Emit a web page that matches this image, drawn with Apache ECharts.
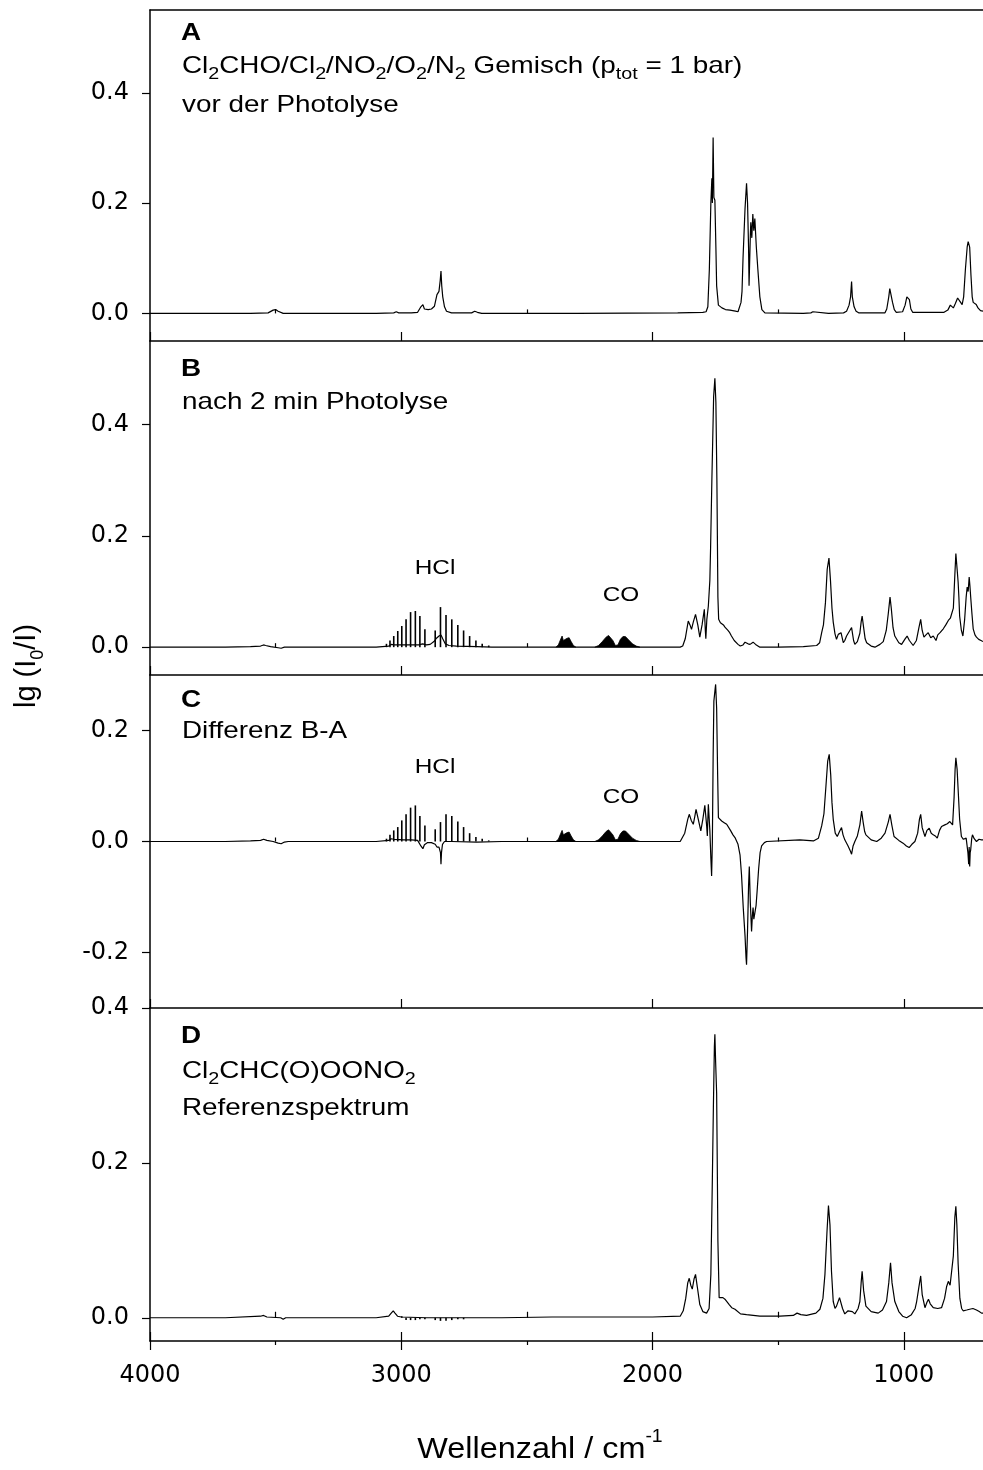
<!DOCTYPE html>
<html>
<head>
<meta charset="utf-8">
<script src="https://cdn.jsdelivr.net/npm/echarts@6/dist/echarts.min.js"></script>
<style>
  html, body { margin: 0; padding: 0; background: #fff; }
  #chart { width: 983px; height: 1470px; }
</style>
</head>
<body>
<div id="chart"></div>
<script>
// ---- axis ticks ----
const xMajorTicks = [4000, 3000, 2000, 1000];
const xMinorTicks = [3500, 2500, 1500];
const yTicksAB = [0, 0.2, 0.4];
const yTicksC = [-0.2, 0, 0.2];
const yTicksD = [0, 0.2, 0.4];

// ---- spectrum A: mixture before photolysis [wavenumber, lg(I0/I)] ----
const specA = [
  [4000,0.0],[3800,0.0],[3600,0.0],[3530,0.001],[3510,0.006],[3500,0.007],[3490,0.004],[3470,0.0],
  [3100,0.0],[3030,0.001],[3020,0.003],[3010,0.001],[2960,0.001],[2935,0.002],[2922,0.012],[2914,0.016],
  [2908,0.008],[2902,0.005],[2893,0.007],[2880,0.008],[2868,0.013],[2858,0.034],[2850,0.04],[2845,0.06],
  [2842,0.077],[2839,0.05],[2835,0.03],[2828,0.012],[2820,0.004],[2800,0.001],[2720,0.001],[2708,0.004],
  [2703,0.005],[2697,0.002],[2680,0.0],[2300,0.0],[1900,0.001],[1800,0.002],[1787,0.003],[1780,0.012],
  [1774,0.08],[1768,0.2],[1764,0.245],[1762,0.2],[1759,0.319],[1756,0.21],[1752,0.205],[1748,0.12],
  [1745,0.05],[1738,0.015],[1724,0.01],[1710,0.007],[1692,0.006],[1670,0.004],[1660,0.003],[1656,0.002],
  [1648,0.02],[1644,0.04],[1640,0.1],[1632,0.19],[1626,0.236],[1622,0.2],[1618,0.12],[1616,0.05],
  [1611,0.14],[1609,0.165],[1605,0.137],[1601,0.18],[1597,0.15],[1593,0.172],[1587,0.12],[1581,0.08],
  [1573,0.03],[1565,0.007],[1553,0.001],[1400,0.0],[1370,0.001],[1362,0.003],[1355,0.001],[1300,0.0],
  [1240,0.001],[1228,0.004],[1218,0.015],[1212,0.03],[1208,0.058],[1205,0.03],[1198,0.012],[1190,0.004],
  [1180,0.001],[1075,0.001],[1068,0.008],[1060,0.03],[1056,0.045],[1053,0.038],[1050,0.04],[1045,0.02],
  [1038,0.007],[1030,0.002],[1005,0.003],[995,0.015],[988,0.03],[984,0.032],[978,0.025],[972,0.008],
  [965,0.002],[840,0.002],[825,0.006],[815,0.015],[809,0.018],[803,0.01],[795,0.018],[786,0.028],
  [781,0.03],[774,0.02],[768,0.016],[762,0.03],[755,0.08],[748,0.12],[744,0.13],[741,0.133],
  [738,0.12],[733,0.07],[728,0.03],[724,0.02],[718,0.018],[712,0.016],[705,0.01],[695,0.005],[685,0.004]
];

// ---- spectrum B: after 2 min photolysis (continuum part) ----
const specB = [
  [4000,0],[3700,0.0],[3600,0.001],[3560,0.002],[3548,0.004],[3540,0.003],[3520,0.001],[3490,-0.001],
  [3478,-0.002],[3465,0],[3100,0],[3050,0.002],[3040,0.005],[3030,0.004],[3010,0.004],[2990,0.004],
  [2960,0.004],[2930,0.004],[2915,0.006],[2900,0.004],[2885,0.005],[2870,0.01],[2860,0.016],[2850,0.02],
  [2842,0.022],[2835,0.015],[2825,0.006],[2810,0.003],[2780,0.002],[2700,0.001],[2640,0],[2400,0],
  [1890,0.0],[1880,0.002],[1870,0.015],[1858,0.047],[1851,0.04],[1845,0.032],[1838,0.045],[1829,0.059],
  [1820,0.04],[1812,0.018],[1803,0.04],[1794,0.068],[1790,0.03],[1788,0.015],[1784,0.05],[1778,0.074],
  [1772,0.12],[1769,0.18],[1764,0.3],[1757,0.45],[1752,0.483],[1748,0.44],[1744,0.3],[1740,0.09],
  [1737,0.05],[1730,0.044],[1726,0.041],[1718,0.04],[1712,0.036],[1706,0.038],[1700,0.03],[1693,0.026],
  [1686,0.02],[1675,0.012],[1660,0.005],[1651,0.002],[1640,0.004],[1632,0.009],[1628,0.011],[1620,0.006],
  [1612,0.005],[1605,0.008],[1600,0.009],[1590,0.005],[1573,0.0],[1500,0.0],[1400,0.001],[1347,0.003],
  [1335,0.008],[1327,0.026],[1320,0.04],[1312,0.08],[1305,0.14],[1298,0.16],[1292,0.12],[1286,0.07],
  [1281,0.045],[1274,0.024],[1268,0.014],[1261,0.023],[1250,0.026],[1241,0.008],[1235,0.012],[1228,0.02],
  [1215,0.03],[1208,0.035],[1200,0.012],[1195,0.005],[1185,0.01],[1175,0.025],[1170,0.045],[1166,0.056],
  [1160,0.035],[1154,0.015],[1148,0.008],[1130,0.002],[1115,0.0],[1095,0.005],[1082,0.01],[1070,0.03],
  [1062,0.06],[1055,0.09],[1050,0.07],[1043,0.035],[1036,0.02],[1020,0.008],[1009,0.005],[995,0.015],
  [987,0.02],[978,0.012],[963,0.003],[950,0.012],[940,0.035],[933,0.05],[927,0.03],[920,0.018],
  [912,0.022],[903,0.026],[893,0.017],[883,0.02],[872,0.012],[865,0.022],[856,0.026],[843,0.033],
  [833,0.04],[823,0.048],[815,0.052],[810,0.055],[803,0.07],[797,0.13],[793,0.168],[788,0.14],
  [784,0.117],[781,0.09],[778,0.056],[771,0.03],[765,0.02],[758,0.05],[752,0.09],[748,0.108],
  [744,0.1],[740,0.126],[737,0.11],[734,0.09],[729,0.06],[724,0.033],[717,0.022],[711,0.018],
  [702,0.014],[693,0.012],[685,0.01]
];

// ---- spectrum C: difference B-A (continuum part) ----
const specC = [
  [4000,0],[3700,0],[3600,0.001],[3560,0.002],[3548,0.004],[3535,0.002],[3510,0],[3490,-0.003],
  [3478,-0.004],[3465,-0.001],[3450,0],[3100,0],[3050,0.002],[3040,0.005],[3030,0.004],[2990,0.003],
  [2960,0.003],[2935,0.002],[2922,-0.008],[2914,-0.013],[2908,-0.006],[2895,-0.002],[2880,-0.002],
  [2865,-0.005],[2858,-0.01],[2850,-0.01],[2844,-0.02],[2842,-0.041],[2840,-0.02],[2836,-0.005],
  [2828,0],[2800,0.0],[2700,-0.001],[2600,0],[2400,0],[1890,0],[1884,0.002],[1872,0.015],[1860,0.04],
  [1854,0.049],[1846,0.038],[1838,0.031],[1832,0.045],[1827,0.058],[1818,0.04],[1808,0.019],[1800,0.04],
  [1792,0.065],[1789,0.067],[1785,0.03],[1782,0.01],[1780,0.04],[1778,0.067],[1772,0.02],[1768,-0.03],
  [1765,-0.062],[1762,0.0],[1759,0.15],[1756,0.253],[1751,0.275],[1749,0.283],[1745,0.24],[1741,0.12],
  [1738,0.043],[1732,0.04],[1725,0.037],[1715,0.034],[1705,0.031],[1690,0.02],[1680,0.012],[1672,0.007],
  [1660,-0.005],[1652,-0.024],[1646,-0.06],[1639,-0.12],[1632,-0.17],[1628,-0.21],[1626,-0.222],
  [1622,-0.16],[1618,-0.08],[1615,-0.045],[1611,-0.11],[1606,-0.162],[1603,-0.135],[1600,-0.119],
  [1597,-0.14],[1593,-0.137],[1588,-0.115],[1584,-0.09],[1578,-0.05],[1572,-0.02],[1566,-0.008],
  [1555,-0.002],[1546,0],[1414,0.003],[1360,0.001],[1340,0.006],[1327,0.028],[1318,0.05],[1310,0.1],
  [1303,0.145],[1297,0.157],[1291,0.12],[1286,0.07],[1281,0.04],[1273,0.015],[1265,0.009],[1256,0.018],
  [1248,0.025],[1242,0.012],[1235,0.003],[1222,-0.008],[1212,-0.018],[1208,-0.023],[1202,-0.008],
  [1195,0],[1185,0.01],[1175,0.03],[1168,0.055],[1162,0.035],[1156,0.018],[1151,0.012],[1130,0.003],
  [1108,0.0],[1090,0.006],[1075,0.015],[1062,0.035],[1055,0.049],[1048,0.03],[1039,0.009],[1020,0.002],
  [1003,-0.003],[990,-0.008],[979,-0.011],[968,-0.005],[956,0],[945,0.015],[938,0.04],[933,0.049],
  [927,0.025],[916,0.009],[908,0.02],[899,0.024],[891,0.015],[883,0.012],[875,0.01],[867,0.006],
  [858,0.02],[850,0.027],[843,0.025],[837,0.03],[827,0.032],[817,0.036],[810,0.033],[806,0.03],
  [800,0.08],[796,0.13],[793,0.151],[788,0.13],[784,0.094],[778,0.04],[771,0.009],[763,0.004],
  [757,0.003],[752,0.006],[748,0.005],[745,-0.02],[742,-0.041],[740,-0.01],[738,-0.045],[736,-0.02],
  [734,-0.015],[730,0.005],[727,0.012],[720,0.005],[711,0],[701,0.004],[691,0.003],[685,0.003]
];

// ---- spectrum D: Cl2CHC(O)OONO2 reference ----
const specD = [
  [4000,0],[3700,0],[3560,0.002],[3548,0.003],[3535,0.001],[3480,0.0],[3470,-0.002],[3460,0],
  [3100,0],[3050,0.002],[3040,0.006],[3032,0.009],[3025,0.006],[3015,0.002],[3000,0.001],[2900,0],
  [2800,0],[2600,0.0],[2400,0.001],[2000,0.001],[1890,0.002],[1878,0.009],[1868,0.025],[1860,0.045],
  [1854,0.051],[1848,0.042],[1842,0.037],[1835,0.05],[1829,0.056],[1822,0.04],[1812,0.017],[1800,0.008],
  [1785,0.006],[1775,0.012],[1768,0.056],[1762,0.18],[1758,0.271],[1754,0.35],[1752,0.366],[1749,0.33],
  [1745,0.29],[1742,0.18],[1740,0.099],[1735,0.026],[1728,0.025],[1720,0.026],[1712,0.024],[1705,0.023],
  [1695,0.017],[1685,0.013],[1672,0.011],[1650,0.005],[1626,0.004],[1573,0.002],[1493,0.002],[1440,0.003],
  [1425,0.006],[1410,0.004],[1387,0.003],[1350,0.006],[1334,0.011],[1322,0.025],[1314,0.056],[1306,0.11],
  [1300,0.145],[1298,0.147],[1294,0.12],[1288,0.06],[1281,0.021],[1274,0.012],[1268,0.015],[1256,0.026],
  [1250,0.028],[1244,0.012],[1235,0.005],[1222,0.009],[1215,0.011],[1205,0.008],[1195,0.005],[1182,0.012],
  [1175,0.021],[1170,0.045],[1166,0.06],[1160,0.035],[1151,0.015],[1130,0.008],[1102,0.006],[1085,0.01],
  [1069,0.021],[1060,0.045],[1053,0.071],[1047,0.045],[1036,0.021],[1020,0.008],[1005,0.002],[989,0.0],
  [970,0.004],[955,0.012],[949,0.021],[940,0.04],[933,0.054],[927,0.03],[916,0.013],[908,0.02],
  [902,0.024],[895,0.018],[883,0.013],[865,0.012],[850,0.013],[838,0.025],[830,0.04],[823,0.047],
  [816,0.042],[810,0.041],[803,0.08],[797,0.13],[793,0.144],[789,0.12],[784,0.07],[777,0.025],
  [770,0.012],[764,0.009],[750,0.01],[738,0.011],[725,0.012],[711,0.01],[700,0.008],[691,0.006],[685,0.006]
];

// ---- HCl rotational lines (R and P branch) ----
const hclLines = [3059,3045,3030,3014,2998,2981,2963,2944,2926,2906,2865,2844,2822,2799,2775,2752,2728,2703,2678,2652];
const hclB = [0.006,0.012,0.02,0.029,0.038,0.05,0.063,0.065,0.056,0.032,0.03,0.072,0.058,0.05,0.04,0.03,0.02,0.012,0.006,0.003];
const hclC = [0.005,0.012,0.02,0.026,0.038,0.049,0.061,0.065,0.046,0.029,0.022,0.035,0.049,0.046,0.036,0.026,0.015,0.008,0.005,0.002];
const hclD = [0,0,0,0,0.002,-0.003,-0.003,-0.003,-0.002,-0.002,-0.003,-0.004,-0.004,-0.003,-0.002,-0.002,0,0,0,0];

// ---- unresolved CO2 and CO bands (envelopes) ----
const co2Band = [[2385,0],[2375,0.004],[2365,0.015],[2360,0.02],[2355,0.012],[2348,0.01],[2340,0.016],[2332,0.017],[2324,0.01],[2315,0.003],[2305,0]];
const coBand = [[2230,0],[2215,0.003],[2200,0.01],[2185,0.018],[2175,0.021],[2168,0.02],[2158,0.012],[2148,0.003],[2143,0.0],[2138,0.004],[2128,0.014],[2118,0.019],[2108,0.019],[2095,0.013],[2080,0.006],[2065,0.002],[2050,0]];

// ---- layout ----
const FONT = "'Liberation Sans', Arial, Helvetica, sans-serif";
const TICKFONT = "'DejaVu Sans', 'Liberation Sans', sans-serif";
const X_MIN = 685, X_MAX = 4000;
const grids = [
  { top: 10,   height: 331, min: -0.05, max: 0.55, ticks: yTicksAB },
  { top: 341,  height: 334, min: -0.05, max: 0.55, ticks: yTicksAB },
  { top: 675,  height: 333, min: -0.3,  max: 0.3,  ticks: yTicksC },
  { top: 1008, height: 333, min: -0.03, max: 0.4,  ticks: yTicksD }
];

const black = '#000';
const xAxes = [];
const yAxes = [];
const mainX = [];

function xAxis(gi, extra) {
  return Object.assign({
    type: 'value', gridIndex: gi, min: X_MIN, max: X_MAX, inverse: true,
    position: 'bottom', splitLine: { show: false },
    axisLine: { show: false }, axisLabel: { show: false }, axisTick: { show: false }
  }, extra);
}

grids.forEach((g, i) => {
  const last = i === grids.length - 1;
  mainX.push(xAxes.length);
  xAxes.push(xAxis(i, {
    axisLine: { show: true, onZero: false, lineStyle: { color: black, width: 1.5 } },
    axisTick: { show: true, inside: true, length: 9, customValues: xMajorTicks, lineStyle: { color: black, width: 1.2 } },
    axisLabel: last ? {
      show: true, customValues: xMajorTicks, fontSize: 24, fontFamily: TICKFONT, color: black, margin: 23,
      formatter: v => String(v)
    } : { show: false }
  }));
  xAxes.push(xAxis(i, {
    axisTick: { show: true, inside: true, length: last ? 6 : 4, customValues: xMinorTicks, lineStyle: { color: black, width: 1.2 } }
  }));
  if (last) {
    xAxes.push(xAxis(i, {
      axisTick: { show: true, inside: false, length: 9, customValues: xMajorTicks, lineStyle: { color: black, width: 1.2 } }
    }));
    xAxes.push(xAxis(i, {
      axisTick: { show: true, inside: false, length: 4, customValues: xMinorTicks, lineStyle: { color: black, width: 1.2 } }
    }));
  }
  if (i === 0) {
    xAxes.push(xAxis(i, {
      position: 'top',
      axisLine: { show: true, onZero: false, lineStyle: { color: black, width: 1.5 } }
    }));
  }
  yAxes.push({
    type: 'value', gridIndex: i, min: g.min, max: g.max,
    splitLine: { show: false },
    axisLine: { show: true, onZero: false, lineStyle: { color: black, width: 1.5 } },
    axisTick: { show: true, inside: false, length: 8, customValues: g.ticks, lineStyle: { color: black, width: 1.2 } },
    axisLabel: {
      show: true, customValues: g.ticks, fontSize: 24, fontFamily: TICKFONT, color: black, margin: 21,
      formatter: v => v.toFixed(1)
    }
  });
});

function spectrum(gi, data) {
  return {
    type: 'line', xAxisIndex: mainX[gi], yAxisIndex: gi, data: data,
    symbol: 'none', silent: true, lineStyle: { color: black, width: 1.2 }, z: 3
  };
}
function lines(gi, pos, heights) {
  return {
    type: 'bar', xAxisIndex: mainX[gi], yAxisIndex: gi, barWidth: 1.6, silent: true,
    data: pos.map((p, k) => [p, heights[k]]), itemStyle: { color: black }, z: 4
  };
}
function band(gi, data) {
  return {
    type: 'line', xAxisIndex: mainX[gi], yAxisIndex: gi, data: data, symbol: 'none', silent: true,
    lineStyle: { color: black, width: 0.8 }, areaStyle: { color: black, opacity: 1 }, z: 4
  };
}

const series = [
  spectrum(0, specA),
  spectrum(1, specB), lines(1, hclLines, hclB), band(1, co2Band), band(1, coBand),
  spectrum(2, specC), lines(2, hclLines, hclC), band(2, co2Band), band(2, coBand),
  spectrum(3, specD), lines(3, hclLines, hclD)
];

// ---- annotations ----
const SUB = { fontSize: 17, fontFamily: FONT, verticalAlign: 'bottom', lineHeight: 17 };
function label(x, y, text, opts) {
  opts = opts || {};
  return {
    type: 'text', x: x, y: y, scaleX: opts.scaleX || 1.16, rotation: opts.rotation || 0, silent: true,
    style: {
      text: text, fill: black, fontFamily: FONT, fontSize: opts.size || 24,
      fontWeight: opts.bold ? 'bold' : 'normal', lineHeight: opts.lh || 34,
      align: opts.align || 'left', verticalAlign: 'middle',
      rich: opts.rich || { s: SUB }
    }
  };
}

const graphics = [
  label(181, 33, 'A', { bold: true }),
  label(182, 66, 'Cl{s|2}CHO/Cl{s|2}/NO{s|2}/O{s|2}/N{s|2} Gemisch (p{s|tot} = 1 bar)'),
  label(182, 105, 'vor der Photolyse'),
  label(181, 369, 'B', { bold: true }),
  label(182, 402, 'nach 2 min Photolyse'),
  label(181, 700, 'C', { bold: true }),
  label(182, 731, 'Differenz B-A'),
  label(181, 1036, 'D', { bold: true }),
  label(182, 1071, 'Cl{s|2}CHC(O)OONO{s|2}'),
  label(182, 1108, 'Referenzspektrum'),
  label(435, 568, 'HCl', { align: 'center', size: 21, lh: 26 }),
  label(621, 595, 'CO', { align: 'center', size: 21, lh: 26 }),
  label(435, 767, 'HCl', { align: 'center', size: 21, lh: 26 }),
  label(621, 797, 'CO', { align: 'center', size: 21, lh: 26 }),
  label(540, 1450, 'Wellenzahl / cm{p|-1}', {
    align: 'center', size: 30, lh: 44, scaleX: 1.08,
    rich: { p: { fontSize: 18, fontFamily: FONT, verticalAlign: 'top', lineHeight: 18 } }
  }),
  label(27, 666, 'lg (I{s|0}/I)', {
    align: 'center', size: 29, lh: 40, scaleX: 1, rotation: Math.PI / 2,
    rich: { s: { fontSize: 18, fontFamily: FONT, verticalAlign: 'bottom', lineHeight: 18 } }
  })
];

const chart = echarts.init(document.getElementById('chart'), null, { renderer: 'canvas' });
chart.setOption({
  animation: false,
  backgroundColor: '#fff',
  grid: grids.map(g => ({ left: 150, right: 0, top: g.top, height: g.height, containLabel: false })),
  xAxis: xAxes,
  yAxis: yAxes,
  series: series,
  graphic: graphics
});
</script>
</body>
</html>
